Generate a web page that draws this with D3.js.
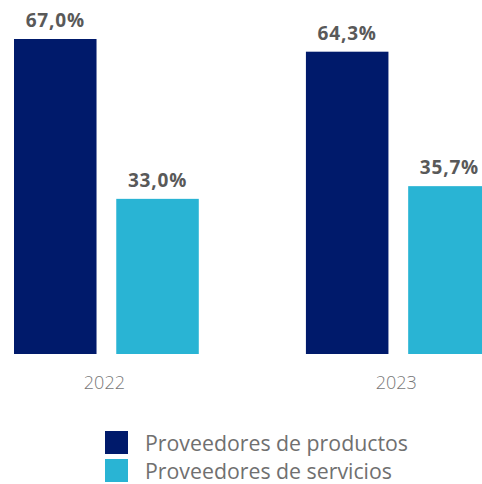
<!DOCTYPE html>
<html><head><meta charset="utf-8">
<script src="https://cdn.jsdelivr.net/npm/d3@7"></script>
<style>body{margin:0;background:#fff}svg{display:block}</style>
</head><body>
<script>
const years = ["2022", "2023"];
const series = ["Proveedores de productos", "Proveedores de servicios"];
const productos = [67.0, 64.3];
const servicios = [33.0, 35.7];
const colors = ["#001a6b", "#29b4d4"];

const W = 482, H = 484;
const svg = d3.select("body").append("svg").attr("width", W).attr("height", H);

const x0 = d3.scaleBand().domain(years).range([14, 490.7]).paddingInner(0.367).paddingOuter(0);
const x1 = d3.scaleBand().domain(series).range([0, x0.bandwidth()]).paddingInner(0.193).paddingOuter(0);
const y = d3.scaleLinear().domain([0, 67]).range([354, 39]);

const data = [];
years.forEach((yr, i) => {
  data.push({year: yr, s: series[0], v: productos[i], c: colors[0]});
  data.push({year: yr, s: series[1], v: servicios[i], c: colors[1]});
});

const fmt = v => v.toFixed(1).replace(".", ",") + "%";

svg.selectAll("rect.bar").data(data).join("rect").attr("class", "bar")
  .attr("x", d => x0(d.year) + x1(d.s))
  .attr("width", x1.bandwidth())
  .attr("y", d => y(d.v))
  .attr("height", d => y(0) - y(d.v))
  .attr("fill", d => d.c);

svg.selectAll("text.val").data(data).join("text").attr("class", "val")
  .attr("x", d => x0(d.year) + x1(d.s) + x1.bandwidth() / 2)
  .attr("y", d => y(d.v) - 12)
  .attr("text-anchor", "middle")
  .attr("font-family", "'Open Sans', sans-serif")
  .attr("font-weight", 700)
  .attr("font-size", 19)
  .attr("letter-spacing", 0.8)
  .attr("fill", "#595959")
  .text(d => fmt(d.v));

svg.selectAll("text.year").data(years).join("text").attr("class", "year")
  .attr("x", d => x0(d) + x0.bandwidth() / 2 - 2)
  .attr("y", 389)
  .attr("text-anchor", "middle")
  .attr("font-family", "'Open Sans', sans-serif")
  .attr("font-weight", 300)
  .attr("font-size", 18)
  .attr("fill", "#777")
  .text(d => d);

const leg = svg.selectAll("g.leg").data(series).join("g").attr("class", "leg")
  .attr("transform", (d, i) => `translate(105,${431 + i * 28})`);
leg.append("rect").attr("width", 23).attr("height", 23).attr("fill", (d, i) => colors[i]);
leg.append("text").attr("x", 40).attr("y", 20)
  .attr("font-family", "'Open Sans', sans-serif")
  .attr("font-size", 21.3)
  .attr("fill", "#707070")
  .text(d => d);
</script>
</body></html>
